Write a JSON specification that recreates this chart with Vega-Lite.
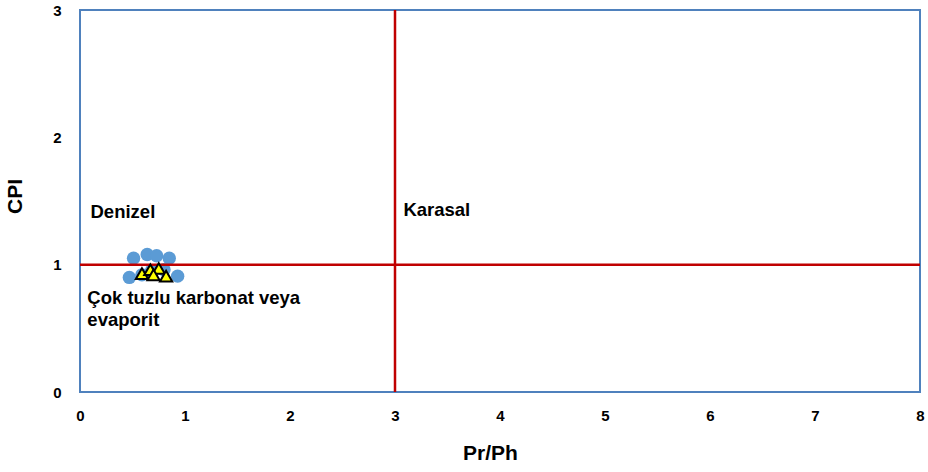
{
  "$schema": "https://vega.github.io/schema/vega-lite/v6.json",
  "width": 840,
  "height": 382,
  "autosize": {"type": "none"},
  "padding": {"left": 80, "top": 10, "right": 8, "bottom": 80},
  "background": "white",
  "config": {
    "view": {"stroke": "#4F81BD", "strokeWidth": 2},
    "font": "Liberation Sans"
  },
  "datasets": {
    "vrule": [{"prph": 3}],
    "hrule": [{"cpi": 1}],
    "circles": [
      {"prph": 0.51, "cpi": 1.05},
      {"prph": 0.64, "cpi": 1.08},
      {"prph": 0.73, "cpi": 1.07},
      {"prph": 0.85, "cpi": 1.05},
      {"prph": 0.47, "cpi": 0.90},
      {"prph": 0.93, "cpi": 0.91},
      {"prph": 0.59, "cpi": 0.92},
      {"prph": 0.68, "cpi": 0.95},
      {"prph": 0.80, "cpi": 0.96}
    ],
    "triangles": [
      {"prph": 0.59, "cpi": 0.93},
      {"prph": 0.67, "cpi": 0.96},
      {"prph": 0.75, "cpi": 0.97},
      {"prph": 0.82, "cpi": 0.91},
      {"prph": 0.70, "cpi": 0.92}
    ],
    "labels": [
      {"prph": 0.1, "cpi": 1.41, "label": "Denizel"},
      {"prph": 3.08, "cpi": 1.43, "label": "Karasal"},
      {"prph": 0.07, "cpi": 0.74, "label": "Çok tuzlu karbonat veya"},
      {"prph": 0.07, "cpi": 0.566, "label": "evaporit"}
    ]
  },
  "layer": [
    {
      "data": {"name": "circles"},
      "mark": {"type": "circle", "size": 180, "color": "#5B9BD5", "opacity": 1},
      "encoding": {
        "x": {
          "field": "prph", "type": "quantitative",
          "scale": {"domain": [0, 8], "nice": false},
          "axis": {
            "title": "Pr/Ph", "values": [0,1,2,3,4,5,6,7,8], "format": "d", "grid": false, "ticks": false, "domain": false,
            "labelFontSize": 15, "labelFontWeight": "bold", "labelPadding": 16, "labelColor": "#000", "labelFlush": false,
            "titleFontSize": 21, "titleFontWeight": "bold", "titleColor": "#000", "titleX": 410, "titleY": 50
          }
        },
        "y": {
          "field": "cpi", "type": "quantitative",
          "scale": {"domain": [0, 3], "nice": false},
          "axis": {
            "title": "CPI", "values": [0,1,2,3], "format": "d", "grid": false, "ticks": false, "domain": false,
            "labelFontSize": 15, "labelFontWeight": "bold", "labelPadding": 19, "labelColor": "#000", "labelFlush": false,
            "titleFontSize": 21, "titleFontWeight": "bold", "titleColor": "#000", "titleX": -55, "titleY": 186
          }
        }
      }
    },
    {
      "data": {"name": "vrule"},
      "mark": {"type": "rule", "color": "#C00000", "strokeWidth": 2.5},
      "encoding": {"x": {"field": "prph", "type": "quantitative"}}
    },
    {
      "data": {"name": "hrule"},
      "mark": {"type": "rule", "color": "#C00000", "strokeWidth": 2.5},
      "encoding": {"y": {"field": "cpi", "type": "quantitative"}}
    },
    {
      "data": {"name": "triangles"},
      "mark": {"type": "point", "shape": "triangle-up", "size": 150, "filled": true, "fill": "#FFFF00", "stroke": "#000000", "strokeWidth": 2, "opacity": 1},
      "encoding": {
        "x": {"field": "prph", "type": "quantitative"},
        "y": {"field": "cpi", "type": "quantitative"}
      }
    },
    {
      "data": {"name": "labels"},
      "mark": {"type": "text", "align": "left", "baseline": "middle", "fontSize": 18.5, "fontWeight": "bold", "color": "#000"},
      "encoding": {
        "x": {"field": "prph", "type": "quantitative"},
        "y": {"field": "cpi", "type": "quantitative"},
        "text": {"field": "label"}
      }
    }
  ]
}
